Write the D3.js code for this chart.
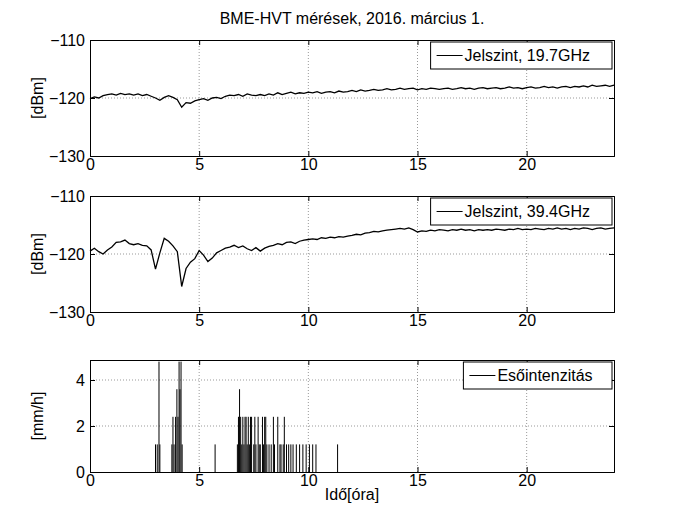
<!DOCTYPE html>
<html><head><meta charset="utf-8">
<script src="https://cdn.jsdelivr.net/npm/d3@7"></script>
<style>body{margin:0;background:#fff}text{font-family:"Liberation Sans",Arial,sans-serif}</style>
</head><body><svg id="c" width="680" height="530"></svg>
<script>
// jelszint 19.7 GHz, 0..24 h, 0.2 h step
var level197 = [-120.1,-119.8,-120.0,-119.6,-119.4,-119.3,-119.5,-119.2,-119.4,-119.3,-119.5,
 -119.3,-119.6,-119.4,-119.7,-120.0,-120.4,-119.9,-119.6,-119.9,-120.3,
 -121.6,-120.8,-120.9,-120.5,-120.3,-120.1,-120.4,-120.0,-119.9,-120.1,
 -119.7,-119.5,-119.6,-119.4,-119.7,-119.3,-119.5,-119.6,-119.4,-119.6,
 -119.3,-119.5,-119.1,-119.4,-119.2,-119.0,-119.3,-119.1,-119.2,-119.0,
 -119.1,-118.9,-119.2,-119.0,-118.9,-119.1,-118.8,-119.0,-118.9,-118.7,
 -118.9,-118.6,-118.8,-118.7,-118.5,-118.7,-118.6,-118.4,-118.6,-118.5,
 -118.3,-118.5,-118.4,-118.3,-118.6,-118.4,-118.5,-118.3,-118.4,-118.5,
 -118.4,-118.3,-118.5,-118.4,-118.2,-118.4,-118.3,-118.5,-118.3,-118.2,
 -118.4,-118.3,-118.2,-118.4,-118.3,-118.1,-118.3,-118.2,-118.4,-118.2,
 -118.1,-118.3,-118.2,-118.0,-118.2,-118.1,-118.3,-118.1,-118.0,-118.2,
 -118.0,-118.1,-117.9,-118.1,-117.8,-118.0,-117.9,-117.8,-118.0,-117.8];
// jelszint 39.4 GHz
var level394 = [-119.5,-119.0,-119.6,-120.0,-119.3,-118.8,-118.0,-117.9,-117.6,-118.2,-118.4,
 -118.2,-118.5,-118.6,-119.3,-122.6,-119.8,-117.3,-117.8,-118.6,-119.6,
 -125.6,-122.5,-121.4,-120.8,-119.4,-120.2,-121.3,-120.7,-119.8,-119.4,
 -119.0,-118.8,-118.5,-118.9,-118.6,-119.1,-119.4,-118.9,-119.5,-119.0,
 -118.7,-118.5,-118.2,-118.4,-118.0,-117.9,-118.2,-117.8,-117.6,-117.5,
 -117.4,-117.5,-117.2,-117.3,-117.1,-117.2,-117.0,-117.1,-116.9,-116.8,
 -116.6,-116.7,-116.4,-116.3,-116.1,-116.2,-116.0,-115.9,-115.8,-115.7,
 -115.6,-115.7,-115.5,-115.8,-116.2,-116.0,-116.1,-115.9,-116.0,-115.8,
 -115.9,-116.0,-115.8,-115.9,-115.7,-115.9,-115.8,-116.0,-115.8,-115.9,
 -115.8,-115.9,-115.7,-115.8,-115.9,-115.7,-115.8,-115.6,-115.8,-115.7,
 -115.8,-115.6,-115.7,-115.8,-115.6,-115.7,-115.5,-115.7,-115.6,-115.8,
 -115.6,-115.7,-115.5,-115.6,-115.8,-115.6,-115.5,-115.7,-115.6,-115.5];
// esőintenzitás events [óra, mm/h]
var rain = [[3.0,1.2],[3.08,1.2],[3.16,4.8],[3.2,1.2],[3.75,1.2],[3.8,2.4],[3.85,1.2],[3.92,2.4],[3.98,3.6],
 [4.03,2.4],[4.08,4.8],[4.12,3.6],[4.17,4.8],[4.22,1.2],[5.73,1.2],[6.75,1.2],[6.8,2.4],[6.85,3.6],[6.9,2.4],
 [6.95,1.2],[7.0,2.4],[7.05,1.2],[7.1,2.4],[7.15,2.4],[7.2,1.2],[7.25,2.4],[7.3,1.2],[7.35,2.4],[7.4,2.4],
 [7.5,1.2],[7.55,2.4],[7.6,1.2],[7.7,2.4],[7.75,1.2],[7.8,1.2],[7.9,2.4],[7.95,1.2],[8.0,2.4],[8.05,2.4],
 [8.1,1.2],[8.2,1.2],[8.3,1.2],[8.4,2.4],[8.45,1.2],[8.6,2.4],[8.7,1.2],[8.75,1.2],[8.85,1.2],[8.9,2.4],
 [9.0,1.2],[9.1,1.2],[9.2,1.2],[9.3,1.2],[9.45,1.2],[9.6,1.2],[9.75,1.2],[9.9,1.2],[10.05,1.2],[10.2,1.2],
 [10.35,1.2],[11.34,1.2]];
var xTicks = [0,5,10,15,20];
var dbTicks = [-130,-120,-110];
var rainTicks = [0,2,4];

var svg = d3.select('#c');
var L = 90, R = 614;
var x = d3.scaleLinear().domain([0,24]).range([L,R]);

function panel(top, bottom, ydom, yticks, ylab, legend, draw) {
  var y = d3.scaleLinear().domain(ydom).range([bottom, top]);
  var g = svg.append('g');
  g.selectAll('.gx').data(xTicks.slice(1)).enter().append('line')
    .attr('x1',d=>x(d)).attr('x2',d=>x(d)).attr('y1',top).attr('y2',bottom)
    .attr('stroke','#999').attr('stroke-dasharray','1,2');
  g.selectAll('.gy').data(yticks.slice(1).filter(d=>y(d)>top+1)).enter().append('line')
    .attr('x1',L).attr('x2',R).attr('y1',d=>y(d)).attr('y2',d=>y(d))
    .attr('stroke','#999').attr('stroke-dasharray','1,2');
  draw(g, y);
  g.append('g').attr('transform','translate(0,'+bottom+')')
    .call(d3.axisBottom(x).tickValues(xTicks).tickSize(-5).tickPadding(3));
  g.append('g').attr('transform','translate(0,'+top+')')
    .call(d3.axisTop(x).tickValues(xTicks).tickSize(-5).tickFormat(''));
  g.append('g').attr('transform','translate('+L+',0)')
    .call(d3.axisLeft(y).tickValues(yticks).tickSize(-5).tickPadding(5).tickFormat(d3.format('d')));
  g.append('g').attr('transform','translate('+R+',0)')
    .call(d3.axisRight(y).tickValues(yticks).tickSize(-5).tickFormat(''));
  g.selectAll('.domain').attr('stroke','#000');
  g.selectAll('.tick line').attr('stroke','#000');
  g.selectAll('.tick text').attr('font-size',16).attr('fill','#000').style('font-family','Liberation Sans, Arial');
  g.append('text').attr('transform','translate(43,'+((top+bottom)/2)+') rotate(-90)')
    .attr('text-anchor','middle').attr('font-size',16).text(ylab);
  // legend
  var tw = legend.length*8.2;
  var lw = tw + 42, lx = R-2-lw, ly = top+2;
  g.append('rect').attr('x',lx).attr('y',ly).attr('width',lw).attr('height',27)
    .attr('fill','#fff').attr('stroke','#000');
  g.append('line').attr('x1',lx+6).attr('x2',lx+32).attr('y1',ly+13.5).attr('y2',ly+13.5).attr('stroke','#000');
  g.append('text').attr('x',lx+34).attr('y',ly+19).attr('font-size',16).text(legend);
  return y;
}

function drawLevel(data) {
  return function(g, y) {
    g.append('path').datum(data)
      .attr('d', d3.line().x((d,i)=>x(i*0.2)).y(d=>y(d)))
      .attr('fill','none').attr('stroke','#000').attr('stroke-width',1.3);
  };
}

panel(40,156,[-130,-110],dbTicks,'[dBm]','Jelszint, 19.7GHz', drawLevel(level197));
panel(196,312,[-130,-110],dbTicks,'[dBm]','Jelszint, 39.4GHz', drawLevel(level394));
panel(360,472,[0,4.87],rainTicks,'[mm/h]','Esőintenzitás', function(g, y) {
  g.selectAll('.rb').data(rain).enter().append('line')
    .attr('x1',d=>x(d[0])).attr('x2',d=>x(d[0])).attr('y1',y(0)).attr('y2',d=>y(d[1]))
    .attr('stroke','#000').attr('stroke-width',1);
});

svg.append('text').attr('x',352).attr('y',24).attr('text-anchor','middle').attr('font-size',16).text('BME-HVT mérések, 2016. március 1.');
svg.append('text').attr('x',352).attr('y',500).attr('text-anchor','middle').attr('font-size',16).text('Idő[óra]');
</script></body></html>
